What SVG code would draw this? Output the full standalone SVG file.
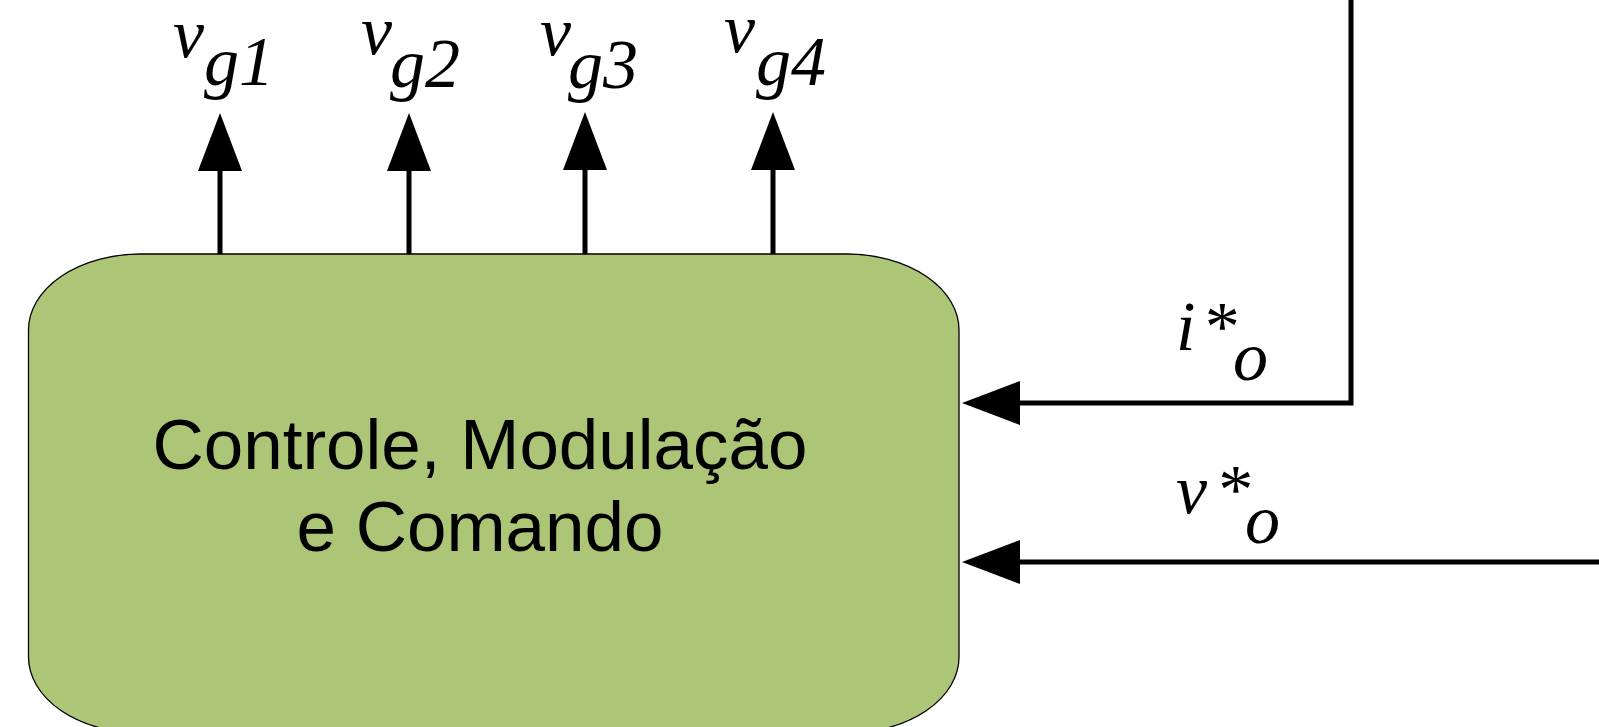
<svg xmlns="http://www.w3.org/2000/svg" width="1599" height="727" viewBox="0 0 1599 727">
<style>
.box{fill:#adc576;stroke:#000;stroke-width:1.3}
.wire{fill:none;stroke:#000;stroke-width:5;marker-end:url(#ah)}
.lbl{font-family:"Liberation Serif","Times New Roman",serif;font-style:italic;font-size:70px;fill:#000}
.main{font-family:"Liberation Sans",Arial,sans-serif;font-size:71px;fill:#000;text-anchor:middle}
</style>
<defs>
<marker id="ah" viewBox="0 0 58 44" refX="0" refY="22" markerWidth="58" markerHeight="44" markerUnits="userSpaceOnUse" orient="auto">
<path d="M0,0 L58,22 L0,44 Z" fill="#000"/>
</marker>
</defs>
<rect width="1599" height="727" fill="#fff"/>
<g id="block">
<rect class="box" x="28.5" y="254" width="930.5" height="479" rx="112" ry="76"/>
<text class="main" x="480" y="469">Controle, Modulação</text>
<text class="main" x="480" y="551">e Comando</text>
</g>
<g id="connectors">
<path class="wire" d="M220,254 V171"/>
<path class="wire" d="M409,254 V171"/>
<path class="wire" d="M585,254 V170"/>
<path class="wire" d="M773,254 V170"/>
<path class="wire" d="M1351,0 V403 H1020"/>
<path class="wire" d="M1599,562 H1020"/>
</g>
<g id="labels">
<text class="lbl" x="173" y="57">v</text><text class="lbl" x="204" y="85">g1</text>
<text class="lbl" x="361" y="54">v</text><text class="lbl" x="390" y="87">g2</text>
<text class="lbl" x="540" y="55">v</text><text class="lbl" x="568" y="88">g3</text>
<text class="lbl" x="724" y="52">v</text><text class="lbl" x="756" y="85">g4</text>
<text class="lbl" x="1176" y="350">i<tspan dx="6">*</tspan></text><text class="lbl" x="1233" y="380">o</text>
<text class="lbl" x="1176" y="513">v<tspan dx="8">*</tspan></text><text class="lbl" x="1245" y="543">o</text>
</g>
</svg>
